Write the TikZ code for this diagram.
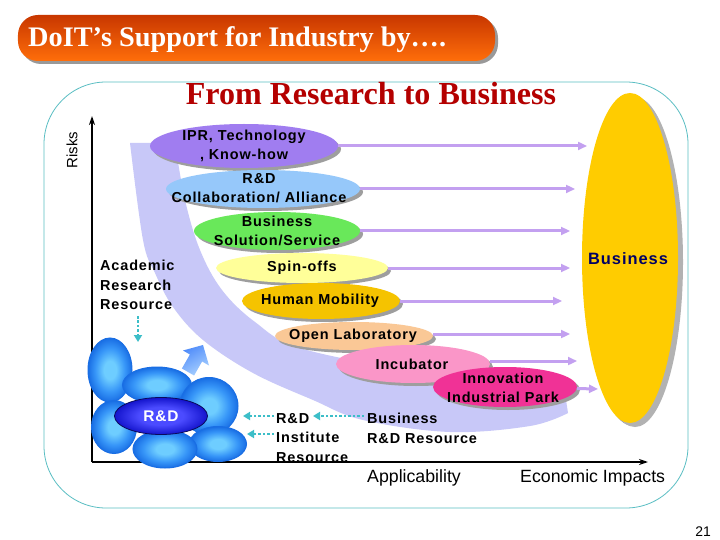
\documentclass[tikz,border=0pt]{standalone}
\usepackage{fontspec}
\setmainfont{Liberation Serif}
\setsansfont{Liberation Sans}
\newfontfamily\lblfont[LetterSpace=6]{Liberation Sans}
\usetikzlibrary{shapes.geometric,shadows,arrows.meta}
\definecolor{framec}{RGB}{90,190,195}
\definecolor{bandc}{RGB}{200,200,248}
\definecolor{flowc}{RGB}{195,160,240}
\definecolor{tealc}{RGB}{60,190,200}
\definecolor{iprc}{RGB}{160,125,240}
\definecolor{collabc}{RGB}{150,200,250}
\definecolor{bizsolc}{RGB}{105,232,90}
\definecolor{spinc}{RGB}{255,255,153}
\definecolor{hmc}{RGB}{245,195,0}
\definecolor{olc}{RGB}{250,200,150}
\definecolor{incubc}{RGB}{250,150,200}
\definecolor{innoc}{RGB}{240,50,150}
\definecolor{bizc}{RGB}{255,204,0}
\definecolor{navyc}{RGB}{0,0,100}
\definecolor{titlered}{RGB}{180,0,0}
\definecolor{bartop}{RGB}{200,55,0}
\definecolor{barbot}{RGB}{255,110,10}
\definecolor{blobA}{RGB}{110,205,255}
\definecolor{blobB}{RGB}{55,150,248}
\definecolor{blobC}{RGB}{25,110,228}
\definecolor{coreA}{RGB}{75,75,255}
\definecolor{coreB}{RGB}{20,20,205}
\definecolor{fatA}{RGB}{80,140,250}
\definecolor{fatB}{RGB}{170,210,255}
\pgfdeclareradialshading{blobsh}{\pgfpoint{0bp}{0bp}}{color(0bp)=(blobA); color(7bp)=(blobA); color(17bp)=(blobB); color(25bp)=(blobC); color(50bp)=(blobC)}
\pgfdeclareradialshading{coresh}{\pgfpoint{0bp}{0bp}}{color(0bp)=(coreA); color(12bp)=(coreA); color(25bp)=(coreB); color(50bp)=(coreB)}
\begin{document}
\begin{tikzpicture}[x=1bp,y=-1bp,
  oval/.style={ellipse, inner sep=0pt, draw=none, drop shadow={opacity=1, fill=black!38, shadow xshift=3bp, shadow yshift=-3bp}},
  lbl/.style={font=\lblfont\bfseries\fontsize{14.5}{19}\selectfont, align=center, inner sep=0pt},
  side/.style={font=\lblfont\bfseries\fontsize{14.5}{19.5}\selectfont, align=left, inner sep=0pt, anchor=west},
  plain/.style={font=\sffamily\fontsize{17.8}{20}\selectfont, inner sep=0pt},
  flow/.style={draw=flowc, line width=3bp, -{Triangle[length=9bp,width=8bp]}},
  dots/.style={draw=tealc, line width=2.5bp, dotted, -{Triangle[length=7bp,width=8bp]}},
  blob/.style={ellipse, inner sep=0pt, shade, shading=blobsh, draw=blobC, line width=1bp},
  axisline/.style={line width=1.6bp, -{Stealth[length=9bp,width=6bp]}},
]
\useasboundingbox (0,0) rectangle (720,540);
\fill[white] (0,0) rectangle (720,540);

% title bar
\node[draw=none, minimum width=477bp, minimum height=46bp, rounded corners=20bp,
      top color=bartop, bottom color=barbot,
      drop shadow={opacity=1, fill=black!40, shadow xshift=3bp, shadow yshift=-3bp}] (bar) at (256.5,38) {};
\node[anchor=base west, inner sep=0pt, text=white, font=\bfseries\fontsize{28.4}{30}\selectfont] (bartext) at (28,47) {DoIT’s Support for Industry by….};

% frame
\draw[framec, line width=0.8bp, rounded corners=62bp] (44,82) rectangle (688,508);
\node[anchor=base, inner sep=0pt, text=titlered, font=\bfseries\fontsize{32.2}{34}\selectfont] (head) at (371,105) {From Research to Business};

% band
\fill[bandc] plot[smooth, tension=0.6] coordinates {(130,143) (143,240) (155,273) (173,307) (203,340) (253,373) (313,400) (363,420) (450,432) (530,426) (568,413)}
  -- plot[smooth, tension=0.6] coordinates {(566,400) (520,393) (413,372) (300,348) (255,322) (222,290) (200,250) (185,200) (175,143)} -- cycle;

% axes
\coordinate (o) at (92,462);
\coordinate (ytop) at (92,116);
\coordinate (xend) at (648,462);
\draw[axisline] (o) -- (ytop);
\draw[axisline] (o) -- (xend);
\node[plain, rotate=90, font=\sffamily\fontsize{15}{17}\selectfont] (risks) at (72,150) {Risks};

% business
\node[oval, fill=bizc, minimum width=96bp, minimum height=330bp,
      drop shadow={opacity=1, fill=black!30, shadow xshift=5bp, shadow yshift=-4bp}] (biz) at (630,258) {};
\node[lbl, text=navyc, font=\lblfont\bfseries\fontsize{16.5}{19}\selectfont] (biz-t) at (628,259) {Business};

% ellipses
\node[oval, fill=iprc, minimum width=188bp, minimum height=44bp] (ipr) at (244,146) {};
\node[oval, fill=collabc, minimum width=194bp, minimum height=38bp] (collab) at (263,189) {};
\node[oval, fill=bizsolc, minimum width=166bp, minimum height=38bp] (bizsol) at (277,231) {};
\node[oval, fill=spinc, minimum width=172bp, minimum height=30bp] (spin) at (302,268) {};
\node[oval, fill=hmc, minimum width=158bp, minimum height=36bp] (hm) at (321,301) {};
\node[oval, fill=olc, minimum width=158bp, minimum height=28bp] (ol) at (354,336) {};
\node[oval, fill=incubc, minimum width=154bp, minimum height=38bp] (incub) at (413,364) {};
\node[oval, fill=innoc, minimum width=144bp, minimum height=40bp] (inno) at (505,387) {};

\node[lbl] (ipr-t) at (244,146) {IPR, Technology\\, Know-how};
\node[lbl] (collab-t) at (259,188) {R\&D\\Collaboration/ Alliance};
\node[lbl] (bizsol-t) at (277,231) {Business\\Solution/Service};
\node[lbl] (spin-t) at (302,268) {Spin-offs};
\node[lbl] (hm-t) at (320,301) {Human Mobility};
\node[lbl] (ol-t) at (353,336) {Open Laboratory};
\node[lbl] (incub-t) at (412,364) {Incubator};
\node[lbl] (inno-t) at (503,388) {Innovation\\Industrial Park};

% flow arrows
\coordinate (e1) at (587,146);
\coordinate (e2) at (575,189);
\coordinate (e3) at (570,231);
\coordinate (e4) at (570,268);
\coordinate (e5) at (562,301);
\coordinate (e6) at (570,334);
\coordinate (e7) at (577,361);
\coordinate (e8) at (598,389);
\draw[flow] (ipr) -- (e1);
\draw[flow] (collab) -- (e2);
\draw[flow] (bizsol) -- (e3);
\draw[flow] (spin) -- (e4);
\draw[flow] (hm) -- (e5);
\draw[flow] (ol.east |- e6) -- (e6);
\draw[flow] (incub.east |- e7) -- (e7);
\draw[flow] (inno) -- (e8);

% left texts
\node[side] (acad) at (100,285) {Academic\\Research\\Resource};
\node[side] (inst) at (276,438) {R\&D\\Institute\\Resource};
\node[side] (bizrd) at (367,428.5) {Business\\R\&D Resource};
\node[plain, anchor=west] (appl) at (367,478) {Applicability};
\node[plain, anchor=west] (econ) at (520,478) {Economic Impacts};
\node[plain, font=\sffamily\fontsize{14}{16}\selectfont] (pg) at (703,532) {21};

% blobs
\node[blob, minimum width=44bp, minimum height=64bp] (bA) at (110,370) {};
\node[blob, minimum width=69bp, minimum height=36bp] (bB) at (157,385) {};
\node[blob, minimum width=58bp, minimum height=57bp] (bC) at (209,406) {};
\node[blob, minimum width=45bp, minimum height=53bp] (bD) at (114,427) {};
\node[blob, minimum width=57bp, minimum height=35bp] (bF) at (218,444) {};
\node[blob, minimum width=64bp, minimum height=38bp] (bE) at (165,449) {};
\node[ellipse, inner sep=0pt, shade, shading=coresh, draw={rgb,255:red,10;green,10;blue,90}, line width=0.8bp,
      minimum width=93bp, minimum height=37bp, text=white, font=\lblfont\bfseries\fontsize{15.5}{17}\selectfont] (rd) at (161,416) {R\&D};

% fat arrow
\path[top color=fatA, bottom color=fatB, shading angle=30]
  (181.9,368.5) -- (189.9,354.5) -- (183,350.5) -- (203,345) -- (209,365.5) -- (202.1,361.5) -- (194.1,375.5) -- cycle;

% dotted arrows
\coordinate (a0) at (138,316);
\coordinate (a1) at (138,342);
\draw[dots] (a0) -- (a1);
\coordinate (i0) at (274,416);
\coordinate (i1) at (243,416);
\coordinate (j0) at (274,434);
\coordinate (j1) at (247,434);
\draw[dots] (i0) -- (i1);
\draw[dots] (j0) -- (j1);
\coordinate (k0) at (364,416);
\coordinate (k1) at (313,416);
\draw[dots] (k0) -- (k1);
\end{tikzpicture}
\end{document}
